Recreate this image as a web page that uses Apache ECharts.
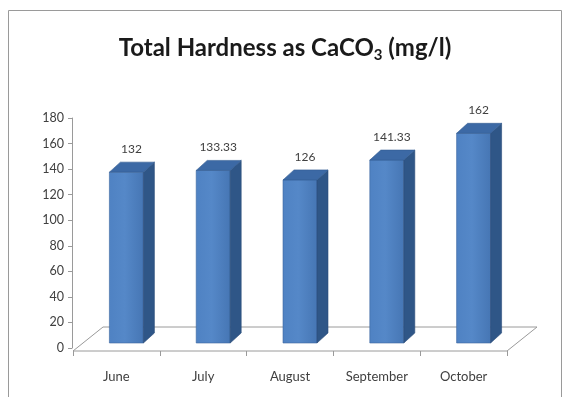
<!DOCTYPE html>
<html>
<head>
<meta charset="utf-8">
<script src="https://cdn.jsdelivr.net/npm/echarts@6/dist/echarts.min.js"></script>
<style>
  html, body { margin: 0; padding: 0; background: #ffffff; }
  #chart { width: 570px; height: 397px; }
</style>
</head>
<body>
<div id="chart"></div>
<script>
// Monthly total hardness readings (mg/l as CaCO3)
const categories = ['June', 'July', 'August', 'September', 'October'];
const hardness = [132, 133.33, 126, 141.33, 162];
const valueAxisMax = 180;
const valueAxisStep = 20;

// Layout of the pseudo-3D plot box (pixels)
const plotLeft = 73;
const plotRight = 507;
const floorFrontY = 351;
const depthX = 30;
const depthY = -24;
const barHalf = 17;
const barDepthX = 11;
const barDepthY = -10;
const barShift = 10;

const font = 'Lato, "Open Sans", sans-serif';
const textColor = '#404040';

const chart = echarts.init(document.getElementById('chart'), null, { renderer: 'canvas' });

function renderBar(params, api) {
  const idx = api.value(0);
  const val = api.value(1);
  const base = api.coord([idx, 0]);
  const top = api.coord([idx, val]);
  const cx = base[0] + barShift;
  const x0 = cx - barHalf, x1 = cx + barHalf;
  const yb = base[1], yt = top[1];
  return {
    type: 'group',
    children: [
      {
        type: 'rect',
        shape: { x: x0, y: yt, width: x1 - x0, height: yb - yt },
        style: {
          fill: new echarts.graphic.LinearGradient(0, 0, 1, 0, [
            { offset: 0, color: '#4f82c3' },
            { offset: 0.45, color: '#5588c8' },
            { offset: 1, color: '#4676b4' }
          ]),
          stroke: '#3d679f', lineWidth: 0.6
        }
      },
      {
        type: 'polygon',
        shape: { points: [[x1, yt], [x1 + barDepthX, yt + barDepthY], [x1 + barDepthX, yb + barDepthY], [x1, yb]] },
        style: { fill: '#2f5687', stroke: '#2a4c78', lineWidth: 0.6 }
      },
      {
        type: 'polygon',
        shape: { points: [[x0, yt], [x0 + barDepthX, yt + barDepthY], [x1 + barDepthX, yt + barDepthY], [x1, yt]] },
        style: { fill: '#3c69a5', stroke: '#335c92', lineWidth: 0.6 }
      },
      {
        type: 'text',
        style: {
          text: String(val),
          x: cx + 5, y: yt + barDepthY - 13,
          align: 'center', verticalAlign: 'middle',
          font: '12px ' + font, fill: textColor
        }
      }
    ]
  };
}

// Floor of the plot box: front edge on the category axis, back edge set in depth
const floorPoints = [
  [plotLeft, floorFrontY],
  [plotRight, floorFrontY],
  [plotRight + depthX, floorFrontY + depthY],
  [plotLeft + depthX, floorFrontY + depthY]
];

chart.setOption({
  animation: false,
  backgroundColor: '#ffffff',
  title: {
    text: '{a|Total Hardness as CaCO}{s|3}{a| (mg/l)}',
    left: 'center',
    top: 26,
    textStyle: {
      rich: {
        a: { fontFamily: font, fontSize: 24, fontWeight: 'bold', color: '#1a1a1a', lineHeight: 34 },
        s: { fontFamily: font, fontSize: 15, fontWeight: 'bold', color: '#1a1a1a', lineHeight: 34, padding: [14, 0, 0, 0] }
      }
    }
  },
  graphic: [
    {
      type: 'polyline',
      shape: { points: [[8.5, 397], [8.5, 10.5], [561.5, 10.5], [561.5, 397]] },
      style: { stroke: '#9a9a9a', lineWidth: 1, fill: null },
      z: 0
    },
    {
      type: 'polygon',
      shape: { points: floorPoints },
      style: { fill: '#ffffff', stroke: '#9a9a9a', lineWidth: 1 },
      z: 1
    }
  ],
  grid: [
    // value axis with tick labels
    { left: 72, right: 570 - plotRight, top: 118, bottom: 397 - 348 },
    // category axis on the floor's front edge
    { left: plotLeft, right: 570 - plotRight, top: 118, bottom: 397 - floorFrontY },
    // bars
    { left: plotLeft, right: 570 - plotRight, top: 110, bottom: 397 - 343 }
  ],
  xAxis: [
    { gridIndex: 0, type: 'category', data: categories, show: false },
    {
      gridIndex: 1, type: 'category', data: categories,
      axisLine: { show: false },
      axisTick: { show: true, length: 5, lineStyle: { color: '#9a9a9a' } },
      axisLabel: { margin: 19, fontFamily: font, fontSize: 13, color: textColor }
    },
    { gridIndex: 2, type: 'category', data: categories, show: false }
  ],
  yAxis: [
    {
      gridIndex: 0, type: 'value', min: 0, max: valueAxisMax, interval: valueAxisStep,
      axisLine: { show: true, lineStyle: { color: '#9a9a9a' } },
      axisTick: { show: true, length: 4, lineStyle: { color: '#9a9a9a' } },
      axisLabel: { margin: 8, fontFamily: font, fontSize: 12.5, color: textColor },
      splitLine: { show: false }
    },
    { gridIndex: 1, type: 'value', show: false, min: 0, max: valueAxisMax },
    { gridIndex: 2, type: 'value', show: false, min: 0, max: valueAxisMax, splitLine: { show: false } }
  ],
  series: [
    {
      type: 'custom',
      xAxisIndex: 2,
      yAxisIndex: 2,
      renderItem: renderBar,
      data: hardness.map((v, i) => [i, v]),
      z: 5
    }
  ]
});
</script>
</body>
</html>
